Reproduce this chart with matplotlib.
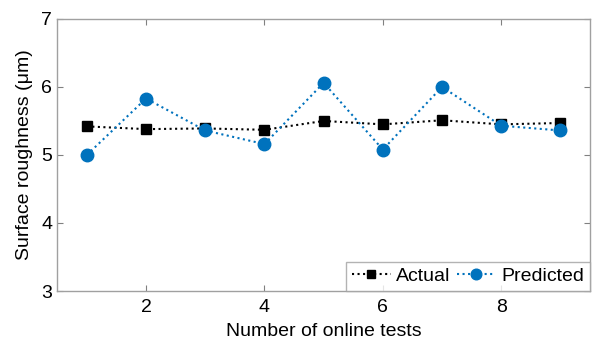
import matplotlib
matplotlib.use("Agg")
import matplotlib.pyplot as plt

plt.rcParams['font.family'] = ['Liberation Sans', 'DejaVu Sans']

tests = [1, 2, 3, 4, 5, 6, 7, 8, 9]
actual = [5.42, 5.38, 5.39, 5.37, 5.50, 5.45, 5.51, 5.45, 5.47]
predicted = [5.00, 5.83, 5.36, 5.16, 6.06, 5.08, 6.00, 5.43, 5.36]

fig = plt.figure(figsize=(5.96, 3.44), dpi=100)
ax = fig.add_axes([0.096, 0.154, 0.894, 0.791])

ax.plot(tests, actual, ls=':', lw=1.5, color='black', marker='s',
        markersize=7, label='Actual')
ax.plot(tests, predicted, ls=':', lw=1.5, color='#0072BD', marker='o',
        markersize=9, label='Predicted')

ax.set_xlim(0.5, 9.5)
ax.set_ylim(3, 7)
ax.set_xticks([2, 4, 6, 8])
ax.set_yticks([3, 4, 5, 6, 7])
ax.tick_params(direction='in', top=True, right=True, labelsize=14,
               length=4, color='#808080')
ax.tick_params(axis='x', pad=6)
for s in ax.spines.values():
    s.set_color('#a0a0a0')
    s.set_linewidth(1.0)

ax.set_xlabel('Number of online tests', fontsize=14, labelpad=5)
ax.set_ylabel('Surface roughness (\u03bcm)', fontsize=14, labelpad=6)

leg = ax.legend(loc='lower right', ncol=2, fontsize=14, frameon=True,
                fancybox=False, borderaxespad=0, handlelength=2.0,
                handletextpad=0.3, columnspacing=0.3, borderpad=0.3,
                markerscale=0.85)
leg.get_frame().set_edgecolor('#a0a0a0')
leg.get_frame().set_linewidth(1.0)

fig.savefig('out.png', dpi=100)
